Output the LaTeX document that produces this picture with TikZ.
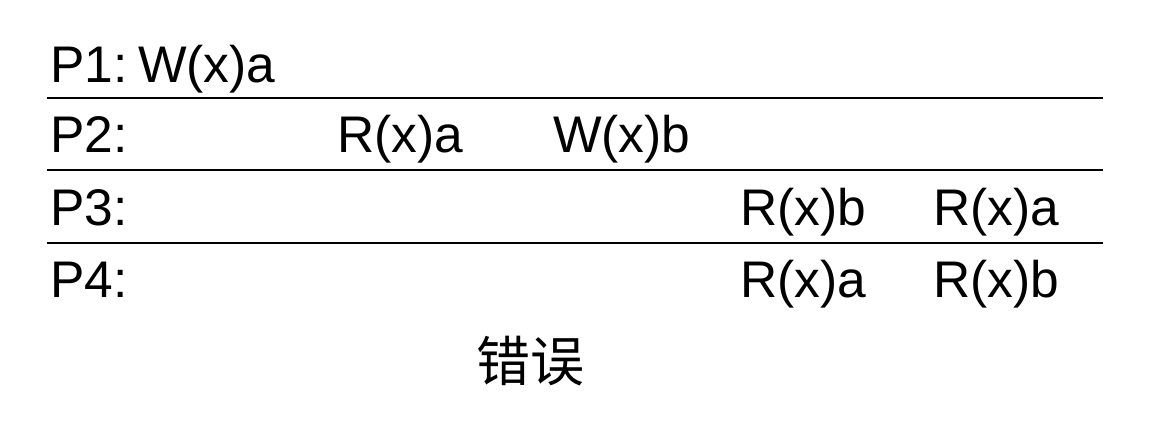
\documentclass[tikz,border=0pt]{standalone}
\usepackage{fontspec}
\setmainfont{Liberation Sans}
\newfontfamily\cjk{Noto Sans CJK SC}
\begin{document}
\begin{tikzpicture}[x=1pt,y=-1pt,
  lbl/.style={anchor=base west,inner sep=0pt,font=\fontsize{51.5}{60}\selectfont},
  sep/.style={line width=2pt,black}]
\useasboundingbox (0,0) rectangle (1153,428);
\node[lbl] (p1) at (50,82) {P1:};
\node[lbl] (p1a) at (138,82) {W(x)a};
\node[lbl] (p2) at (50,152) {P2:};
\node[lbl] (p2a) at (337,152) {R(x)a};
\node[lbl] (p2b) at (553,152) {W(x)b};
\node[lbl] (p3) at (50,225) {P3:};
\node[lbl] (p3a) at (740,225) {R(x)b};
\node[lbl] (p3b) at (933,225) {R(x)a};
\node[lbl] (p4) at (50,297) {P4:};
\node[lbl] (p4a) at (740,297) {R(x)a};
\node[lbl] (p4b) at (933,297) {R(x)b};
\node[inner sep=0pt,font=\cjk\fontsize{54}{60}\selectfont] (cap) at (530,361) {错误};
\draw[sep] (47,98) -- (1103,98);
\draw[sep] (47,170) -- (1103,170);
\draw[sep] (47,243) -- (1103,243);
\end{tikzpicture}
\end{document}
